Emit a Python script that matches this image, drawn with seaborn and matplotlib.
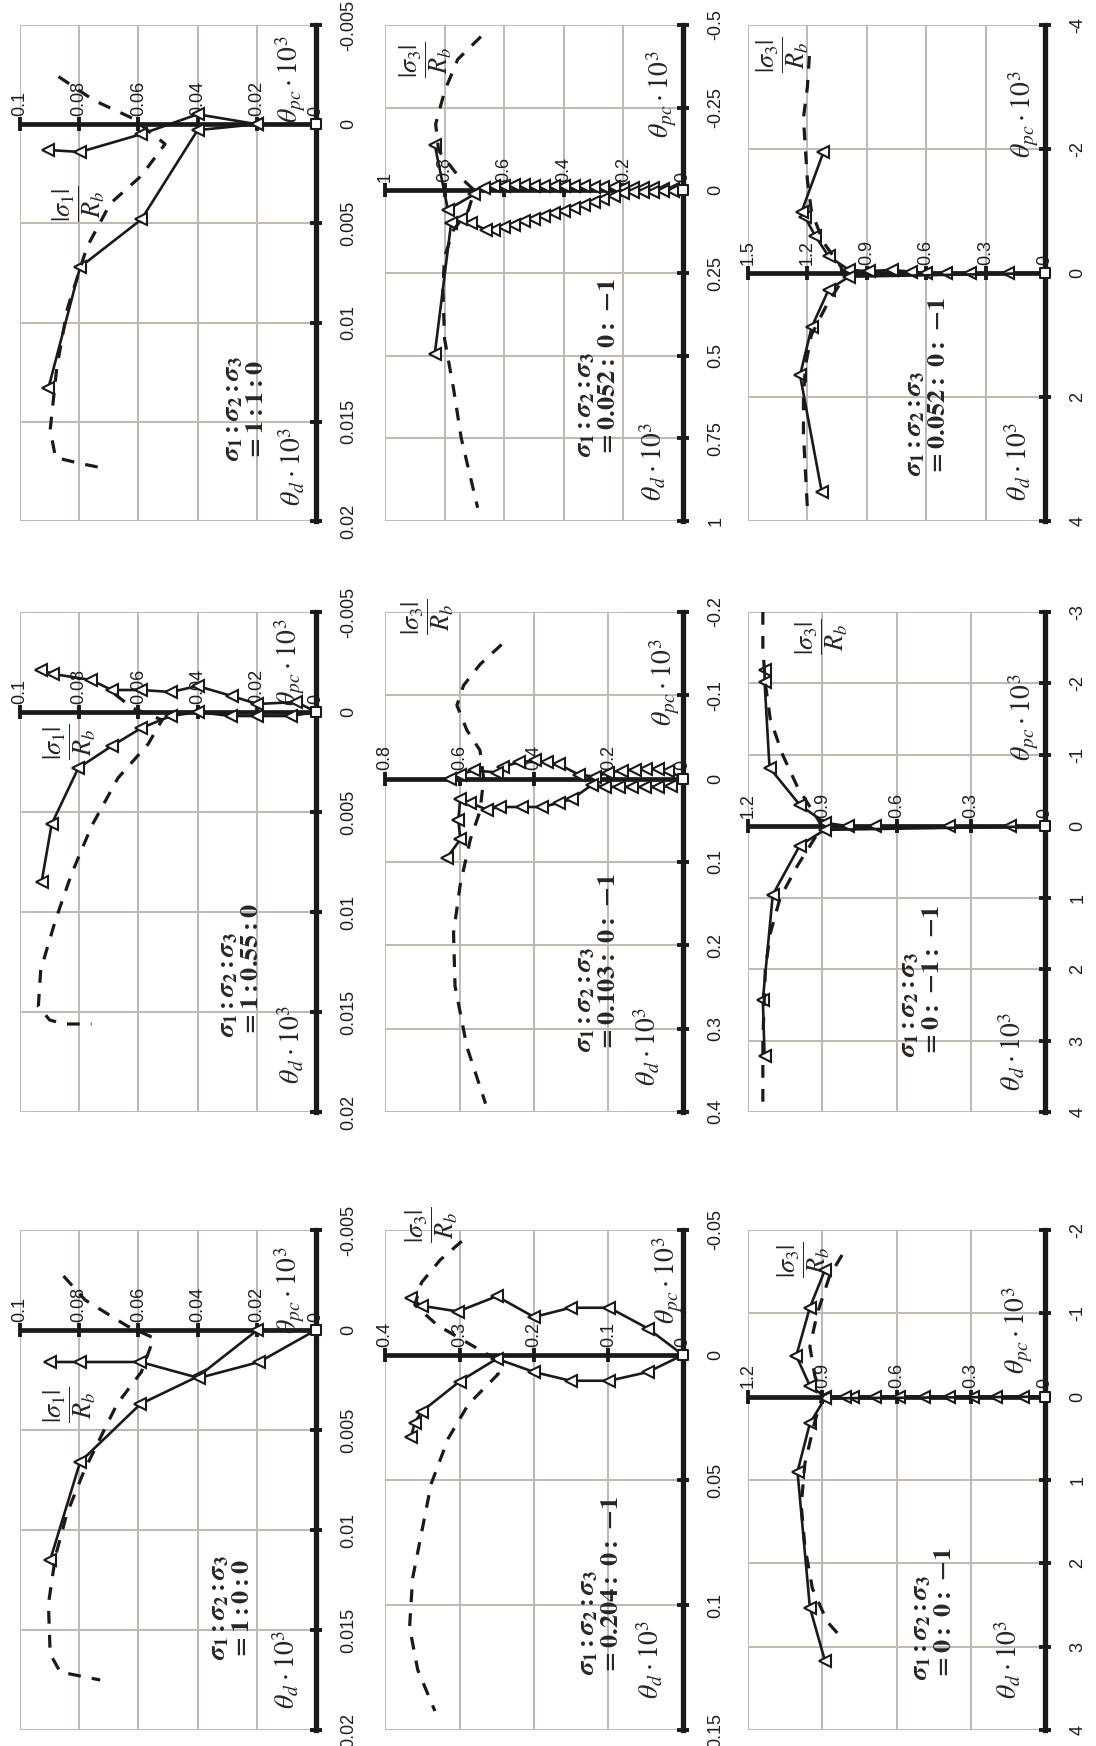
import matplotlib
matplotlib.use('Agg')
import matplotlib.pyplot as plt
import seaborn as sns

sns.set_theme(style='white')
plt.rcParams['font.family'] = ['Liberation Sans', 'DejaVu Sans']
plt.rcParams['mathtext.fontset'] = 'stix'

# ---------------- data (stress ratio |sigma|/Rb, strain theta*10^3) ----------------
# panel A  sigma1:sigma2:sigma3 = 1:1:0
a_s_ticks = [0, 0.02, 0.04, 0.06, 0.08, 0.1]
a_t_ticks = [-0.005, 0, 0.005, 0.01, 0.015, 0.02]
a_sol1_s = [0, 0.02, 0.04, 0.059, 0.0797, 0.0904]
a_sol1_t = [0, 0, 0.0003, 0.0048, 0.0072, 0.0133]
a_sol2_s = [0, 0.02, 0.04, 0.059, 0.0797, 0.0904]
a_sol2_t = [0, 0, -0.0005, 0.0005, 0.0014, 0.0013]
a_dash_s = [0.087, 0.075, 0.062, 0.051, 0.059, 0.0695, 0.0774, 0.084, 0.0876, 0.0898, 0.088, 0.0797, 0.073]
a_dash_t = [-0.0024, -0.0012, -0.0003, 0.001, 0.0026, 0.004, 0.0062, 0.0093, 0.0123, 0.0154, 0.0168, 0.0171, 0.0173]

# panel B  1:0.55:0
b_s_ticks = [0, 0.02, 0.04, 0.06, 0.08, 0.1]
b_t_ticks = [-0.005, 0, 0.005, 0.01, 0.015, 0.02]
b_sol1_s = [0, 0.0085, 0.0198, 0.0288, 0.04, 0.049, 0.059, 0.069, 0.0803, 0.0893, 0.0927]
b_sol1_t = [0, 0.0002, 0.0002, 0.0002, 0, 0.0002, 0.0008, 0.0017, 0.0028, 0.0056, 0.0085]
b_sol2_s = [0, 0.0066, 0.0198, 0.0285, 0.04, 0.049, 0.059, 0.069, 0.076, 0.0887, 0.093]
b_sol2_t = [0, -0.0005, -0.0004, -0.0008, -0.0013, -0.001, -0.0011, -0.0011, -0.0016, -0.0019, -0.0021]
b_dash_s = [0.068, 0.062, 0.052, 0.0567, 0.0669, 0.0758, 0.0826, 0.088, 0.093, 0.0938, 0.09, 0.085, 0.0758]
b_dash_t = [-0.0009, -0.0002, 0.0004, 0.0016, 0.0033, 0.0057, 0.0081, 0.0104, 0.0129, 0.0147, 0.0154, 0.0156, 0.0156]

# panel C  1:0:0
c_s_ticks = [0, 0.02, 0.04, 0.06, 0.08, 0.1]
c_t_ticks = [-0.005, 0, 0.005, 0.01, 0.015, 0.02]
c_sol1_s = [0, 0.0198, 0.0396, 0.0593, 0.0797, 0.0898]
c_sol1_t = [0, 0, 0.0023, 0.0037, 0.0066, 0.0115]
c_sol2_s = [0, 0.0192, 0.0396, 0.0593, 0.0797, 0.09]
c_sol2_t = [0, 0.0016, 0.0024, 0.0016, 0.0016, 0.0016]
c_dash_s = [0.0853, 0.078, 0.0638, 0.0548, 0.059, 0.0672, 0.0729, 0.0785, 0.0842, 0.088, 0.0904, 0.0898, 0.0864, 0.0797, 0.0729]
c_dash_t = [-0.0027, -0.0015, -0.0002, 0.0004, 0.0021, 0.0037, 0.0054, 0.0071, 0.0092, 0.0113, 0.0137, 0.0162, 0.0171, 0.0173, 0.0175]

# panel D  0.204:0:-1
d_s_ticks = [0, 0.1, 0.2, 0.3, 0.4]
d_t_ticks = [-0.05, 0, 0.05, 0.1, 0.15]
d_sol1_s = [0, 0.047, 0.099, 0.151, 0.2, 0.25, 0.302, 0.351, 0.365]
d_sol1_t = [0, -0.0106, -0.0189, -0.0189, -0.0152, -0.0235, -0.0174, -0.0197, -0.0227]
d_sol2_s = [0, 0.047, 0.099, 0.151, 0.2, 0.25, 0.30, 0.351, 0.36, 0.365]
d_sol2_t = [0, 0.0068, 0.0103, 0.0103, 0.0068, 0.0015, 0.0106, 0.0227, 0.027, 0.0326]
d_dash_s = [0.297, 0.326, 0.351, 0.36, 0.33, 0.29, 0.255, 0.248, 0.288, 0.315, 0.338, 0.351, 0.363, 0.367, 0.356, 0.333]
d_dash_t = [-0.0455, -0.038, -0.029, -0.02, -0.012, -0.005, 0.001, 0.0076, 0.0197, 0.0333, 0.0515, 0.0712, 0.0894, 0.109, 0.126, 0.1424]

# panel E  0.103:0:-1
e_s_ticks = [0, 0.2, 0.4, 0.6, 0.8]
e_t_ticks = [-0.2, -0.1, 0, 0.1, 0.2, 0.3, 0.4]
e_sol1_s = [0, 0.04, 0.067, 0.098, 0.129, 0.164, 0.2, 0.236, 0.28, 0.333, 0.364, 0.396, 0.44, 0.484, 0.498, 0.56, 0.6, 0.625]
e_sol1_t = [0, -0.0098, -0.012, -0.012, -0.011, -0.0098, -0.0073, -0.0024, -0.0049, -0.0171, -0.0195, -0.022, -0.0195, -0.0146, -0.0073, -0.01, -0.005, 0.0]
e_sol2_s = [0, 0.031, 0.067, 0.102, 0.138, 0.173, 0.209, 0.244, 0.298, 0.333, 0.378, 0.431, 0.491, 0.527, 0.571, 0.598, 0.603, 0.598, 0.634]
e_sol2_t = [0, 0.0088, 0.0098, 0.0098, 0.0098, 0.0098, 0.0098, 0.0073, 0.0244, 0.029, 0.034, 0.034, 0.034, 0.037, 0.029, 0.024, 0.049, 0.073, 0.095]
e_dash_s = [0.487, 0.545, 0.589, 0.607, 0.58, 0.545, 0.535, 0.545, 0.571, 0.598, 0.616, 0.612, 0.58, 0.53]
e_dash_t = [-0.161, -0.137, -0.112, -0.088, -0.058, -0.034, 0.0, 0.039, 0.073, 0.127, 0.185, 0.249, 0.322, 0.39]

# panel F  0.052:0:-1 (small strain scale)
f_s_ticks = [0, 0.2, 0.4, 0.6, 0.8, 1]
f_t_ticks = [-0.5, -0.25, 0, 0.25, 0.5, 0.75, 1]
f_sol1_s = [0, 0.033, 0.067, 0.1, 0.133, 0.167, 0.2, 0.233, 0.267, 0.3, 0.333, 0.367, 0.4, 0.433, 0.467, 0.5, 0.533, 0.567, 0.6, 0.633, 0.667, 0.7, 0.789, 0.833]
f_sol1_t = [0, -0.004, -0.005, -0.006, -0.006, -0.007, -0.008, -0.009, -0.01, -0.011, -0.012, -0.012, -0.013, -0.013, -0.014, -0.014, -0.015, -0.015, -0.014, -0.012, -0.008, 0.012, 0.058, -0.138]
f_sol2_s = [0, 0.033, 0.067, 0.1, 0.133, 0.167, 0.2, 0.233, 0.267, 0.3, 0.333, 0.367, 0.4, 0.433, 0.467, 0.5, 0.533, 0.567, 0.6, 0.633, 0.66, 0.711, 0.744, 0.778, 0.833]
f_sol2_t = [0, 0.003, 0.003, 0.004, 0.004, 0.005, 0.008, 0.017, 0.025, 0.035, 0.044, 0.052, 0.061, 0.069, 0.078, 0.086, 0.094, 0.104, 0.112, 0.121, 0.12, 0.098, 0.086, 0.098, 0.495]
f_dash_s = [0.678, 0.756, 0.8, 0.83, 0.82, 0.76, 0.7, 0.72, 0.77, 0.8, 0.806, 0.8, 0.77, 0.744, 0.71, 0.689]
f_dash_t = [-0.465, -0.396, -0.3, -0.2, -0.12, -0.05, 0.0, 0.06, 0.12, 0.2, 0.3, 0.45, 0.6, 0.75, 0.88, 0.96]

# panel G  0.052:0:-1 (large strain scale)
g_s_ticks = [0, 0.3, 0.6, 0.9, 1.2, 1.5]
g_t_ticks = [-4, -2, 0, 2, 4]
g_sol1_s = [0, 0.186, 0.381, 0.5, 0.6, 0.678, 0.771, 0.89, 0.99, 1.093, 1.161, 1.212, 1.229, 1.119]
g_sol1_t = [0, 0, 0, 0, 0, -0.02, -0.05, -0.03, -0.05, -0.27, -0.6, -0.9, -0.99, -1.95]
g_sol2_s = [0, 0.99, 1.093, 1.178, 1.237, 1.127]
g_sol2_t = [0, 0.06, 0.27, 0.87, 1.65, 3.54]
g_dash_s = [1.19, 1.2, 1.22, 1.21, 1.2, 1.18, 1.12, 1.03, 1.02, 1.1, 1.18, 1.21, 1.22, 1.22, 1.21, 1.2]
g_dash_t = [-3.5, -3.0, -2.5, -2.0, -1.5, -1.0, -0.5, -0.1, 0.1, 0.5, 1.0, 1.5, 2.0, 2.6, 3.2, 3.8]

# panel H  0:-1:-1
h_s_ticks = [0, 0.3, 0.6, 0.9, 1.2]
h_t_ticks = [-3, -2, -1, 0, 1, 2, 3, 4]
h_sol1_s = [0, 0.143, 0.387, 0.685, 0.794, 0.89, 0.991, 1.113, 1.133, 1.133]
h_sol1_t = [0, 0, 0, 0, 0, -0.05, -0.3, -0.82, -2.02, -2.19]
h_sol2_s = [0, 0.89, 0.991, 1.1, 1.14, 1.133]
h_sol2_t = [0, 0.05, 0.27, 0.96, 2.43, 3.22]
h_dash_s = [1.14, 1.14, 1.13, 1.11, 1.06, 1.0, 0.94, 0.9, 0.94, 1.0, 1.07, 1.11, 1.13, 1.14, 1.14]
h_dash_t = [-3.0, -2.5, -2.0, -1.5, -1.0, -0.55, -0.22, 0.0, 0.22, 0.55, 1.0, 1.5, 2.0, 3.0, 4.0]

# panel I  0:0:-1
i_s_ticks = [0, 0.3, 0.6, 0.9, 1.2]
i_t_ticks = [-2, -1, 0, 1, 2, 3, 4]
i_sol1_s = [0, 0.088, 0.197, 0.292, 0.387, 0.489, 0.59, 0.686, 0.774, 0.808, 0.889, 0.95, 1.005, 0.95, 0.889]
i_sol1_t = [0, 0, 0, 0, 0, 0, 0, 0, 0, 0, 0, -0.13, -0.49, -1.07, -1.52]
i_sol2_s = [0, 0.889, 0.95, 1.0, 0.95, 0.889]
i_sol2_t = [0, 0.02, 0.32, 0.9, 2.53, 3.17]
i_dash_s = [0.82, 0.87, 0.92, 0.95, 0.93, 0.9, 0.93, 0.97, 0.985, 0.97, 0.94, 0.88, 0.82]
i_dash_t = [-1.7, -1.45, -1.0, -0.6, -0.25, 0.0, 0.3, 0.8, 1.3, 1.8, 2.3, 2.7, 2.9]

ratios = ['1{:}1{:}0', r'0.052{:}\ 0{:}\ {-}1', r'0.052{:}\ 0{:}\ {-}1',
          r'1{:}0.55{:}0', r'0.103{:}\ 0{:}\ {-}1', r'0{:}\ {-}1{:}\ {-}1',
          '1{:}0{:}0', r'0.204{:}\ 0{:}\ {-}1', r'0{:}\ 0{:}\ {-}1']
stress_names = ['1', '3', '3', '1', '3', '3', '1', '3', '3']

# ---------------- layout (pixels in a 1096 x 1746 canvas) ----------------
W, H = 1096, 1746
cols = [(20, 316), (385, 683), (748, 1045)]
rows = [(25, 521), (612, 1112), (1230, 1730)]

panels = [
    (a_s_ticks, a_t_ticks, (a_sol1_s, a_sol1_t), (a_sol2_s, a_sol2_t), (a_dash_s, a_dash_t)),
    (f_s_ticks, f_t_ticks, (f_sol1_s, f_sol1_t), (f_sol2_s, f_sol2_t), (f_dash_s, f_dash_t)),
    (g_s_ticks, g_t_ticks, (g_sol1_s, g_sol1_t), (g_sol2_s, g_sol2_t), (g_dash_s, g_dash_t)),
    (b_s_ticks, b_t_ticks, (b_sol1_s, b_sol1_t), (b_sol2_s, b_sol2_t), (b_dash_s, b_dash_t)),
    (e_s_ticks, e_t_ticks, (e_sol1_s, e_sol1_t), (e_sol2_s, e_sol2_t), (e_dash_s, e_dash_t)),
    (h_s_ticks, h_t_ticks, (h_sol1_s, h_sol1_t), (h_sol2_s, h_sol2_t), (h_dash_s, h_dash_t)),
    (c_s_ticks, c_t_ticks, (c_sol1_s, c_sol1_t), (c_sol2_s, c_sol2_t), (c_dash_s, c_dash_t)),
    (d_s_ticks, d_t_ticks, (d_sol1_s, d_sol1_t), (d_sol2_s, d_sol2_t), (d_dash_s, d_dash_t)),
    (i_s_ticks, i_t_ticks, (i_sol1_s, i_sol1_t), (i_sol2_s, i_sol2_t), (i_dash_s, i_dash_t)),
]

# text anchor positions in axes fraction: ratio, theta_d, theta_pc, |sigma|/Rb
text_pos = [
    dict(ratio=(0.76, 0.12), td=(0.92, 0.11), tpc=(0.915, 0.89), frac=(0.20, 0.64)),
    dict(ratio=(0.71, 0.13), td=(0.90, 0.12), tpc=(0.93, 0.86), frac=(0.14, 0.93)),
    dict(ratio=(0.60, 0.09), td=(0.91, 0.12), tpc=(0.93, 0.82), frac=(0.12, 0.94)),
    dict(ratio=(0.74, 0.15), td=(0.915, 0.135), tpc=(0.91, 0.90), frac=(0.17, 0.74)),
    dict(ratio=(0.71, 0.12), td=(0.88, 0.13), tpc=(0.94, 0.86), frac=(0.145, 0.99)),
    dict(ratio=(0.58, 0.11), td=(0.89, 0.12), tpc=(0.93, 0.79), frac=(0.25, 0.95)),
    dict(ratio=(0.71, 0.14), td=(0.90, 0.12), tpc=(0.91, 0.88), frac=(0.17, 0.65)),
    dict(ratio=(0.72, 0.11), td=(0.89, 0.14), tpc=(0.95, 0.90), frac=(0.157, 1.01)),
    dict(ratio=(0.62, 0.10), td=(0.876, 0.14), tpc=(0.91, 0.80), frac=(0.19, 0.94)),
]

fig = plt.figure(figsize=(W / 100, H / 100), dpi=100)
grid_c = '#c2b8b0'
lab_c = '#1e1e1e'

for k, (s_ticks, t_ticks, sol1, sol2, dash) in enumerate(panels):
    r, c = divmod(k, 3)
    x0, x1 = cols[c]
    y0, y1 = rows[r]
    ax = fig.add_axes([x0 / W, 1 - y1 / H, (x1 - x0) / W, (y1 - y0) / H])

    ax.set_xlim(s_ticks[-1], 0)
    ax.set_ylim(t_ticks[-1], t_ticks[0])
    ax.set_xticks(s_ticks)
    ax.set_yticks(t_ticks)
    ax.set_axisbelow(True)
    ax.grid(True, color=grid_c, lw=1.4)
    for side in ['left', 'top', 'bottom']:
        ax.spines[side].set_visible(False)
    ax.spines['right'].set_linewidth(3.8)
    ax.spines['right'].set_color('k')
    ax.tick_params(axis='x', bottom=False, labelbottom=False)
    ax.yaxis.tick_right()
    ax.tick_params(axis='y', right=True, direction='inout', length=9, width=2.8,
                   color='k', pad=13)
    ax.set_yticklabels([f'{v:g}' for v in t_ticks], rotation=90, va='center',
                       fontsize=13, color=lab_c)

    # the strain-zero axis with its tick marks and stress labels
    ax.axhline(0, color='k', lw=3.4, zorder=3)
    sns.scatterplot(x=s_ticks, y=[0] * len(s_ticks), marker='|', s=110, color='k',
                    linewidth=2.8, ax=ax, zorder=3, clip_on=False)
    for v in s_ticks:
        ax.annotate(f'{v:g}', (v, 0), xytext=(0, 6), textcoords='offset points',
                    rotation=90, ha='center', va='bottom', fontsize=13, color=lab_c)

    # experimental curves
    for xs, ts in (sol1, sol2):
        sns.lineplot(x=xs, y=ts, sort=False, estimator=None, ax=ax, color='k',
                     linewidth=1.9, marker='<', markersize=8.5, markerfacecolor='white',
                     markeredgecolor='k', markeredgewidth=1.5, markevery=slice(1, None),
                     zorder=4)
    sns.scatterplot(x=[sol1[0][0]], y=[sol1[1][0]], marker='s', s=55, color='white',
                    edgecolor='k', linewidth=1.5, ax=ax, zorder=6, clip_on=False)
    # model curve
    sns.lineplot(x=dash[0], y=dash[1], sort=False, estimator=None, ax=ax, color='k',
                 linewidth=2.3, linestyle=(0, (4, 3.5)), zorder=4)

    tp = text_pos[k]
    ax.text(*tp['ratio'], r'$\mathbfit{\sigma}_\mathbf{1}\mathbf{:}\mathbfit{\sigma}_\mathbf{2}\mathbf{:}\mathbfit{\sigma}_\mathbf{3}$'
            + '\n' + r'$\mathbf{=' + ratios[k] + '}$',
            transform=ax.transAxes, rotation=90, ha='center', va='bottom',
            multialignment='left', fontsize=19, linespacing=0.95)
    ax.text(*tp['td'], r'$\theta_d\cdot10^3$', transform=ax.transAxes, rotation=90,
            ha='center', va='center', fontsize=20)
    ax.text(*tp['tpc'], r'$\theta_{pc}\cdot10^3$', transform=ax.transAxes, rotation=90,
            ha='center', va='center', fontsize=20)
    ax.text(*tp['frac'], r'$\dfrac{|\sigma_' + stress_names[k] + r'|}{R_b}$',
            transform=ax.transAxes, rotation=90, ha='center', va='center', fontsize=19,
            clip_on=False)

fig.savefig('out.png', dpi=100, facecolor='white')
